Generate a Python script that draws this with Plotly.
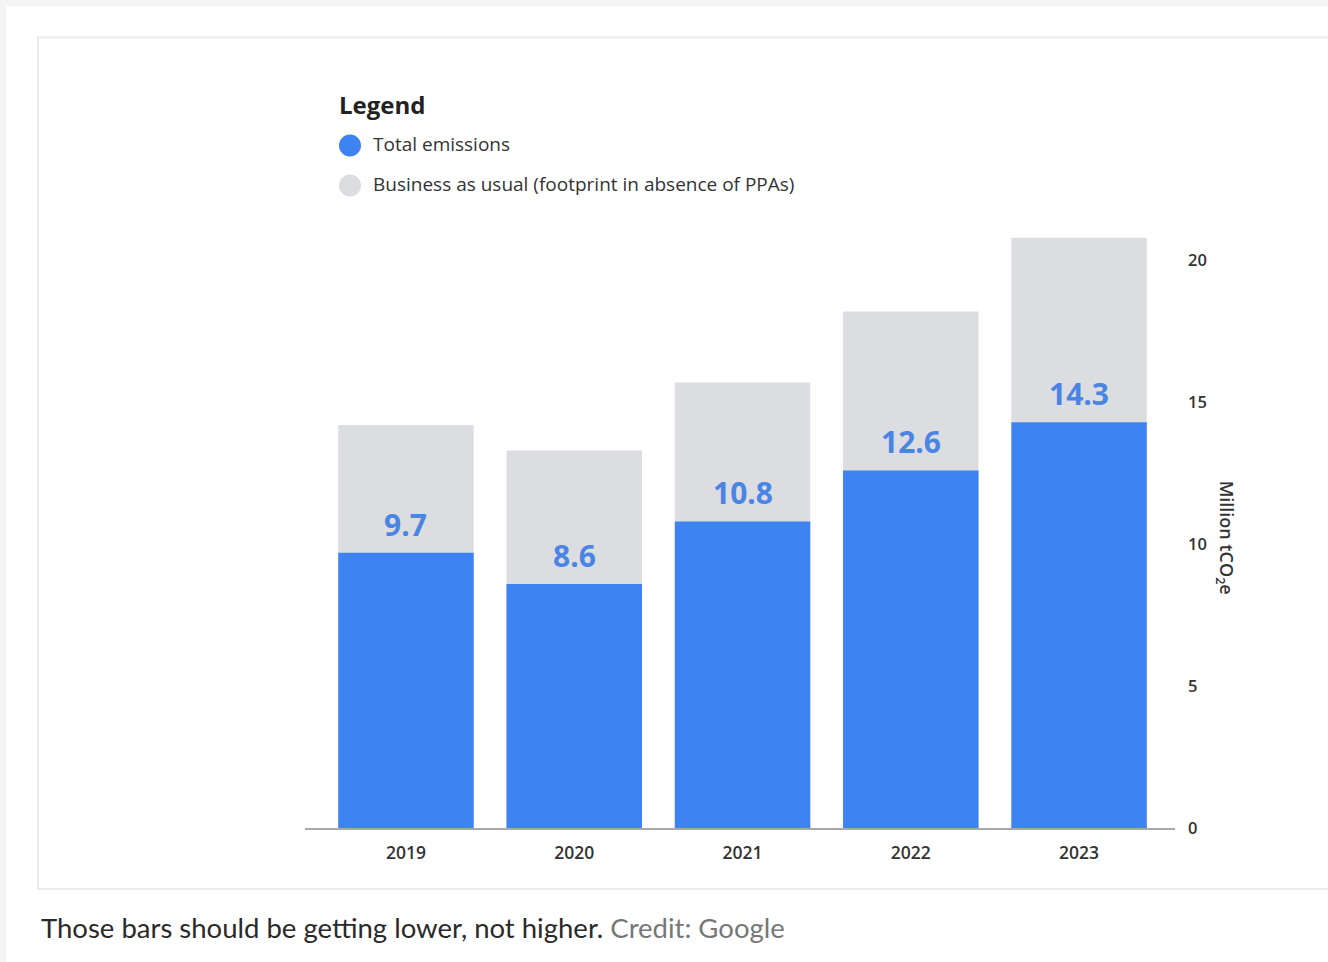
import plotly.graph_objects as go

years = ["2019", "2020", "2021", "2022", "2023"]
total_emissions = [9.7, 8.6, 10.8, 12.6, 14.3]
business_as_usual = [14.2, 13.3, 15.7, 18.2, 20.8]
y_ticks = [0, 5, 10, 15, 20]

BLUE = "#3d83f1"
GRAY = "#dcdde0"
LABEL_BLUE = "#4a84e4"
TEXT = "#333333"
FONT = "Open Sans"

W, H = 1328, 962
L, R, T, B = 305, 153, 231.6, 134
PW, PH = W - L - R, H - T - B


def px(x):
    return (x - L) / PW


def py(y):
    return (H - B - y) / PH


fig = go.Figure()
fig.add_trace(go.Bar(x=years, y=business_as_usual, marker=dict(color=GRAY, line=dict(width=0)),
                     showlegend=False, hoverinfo="skip"))
fig.add_trace(go.Bar(x=years, y=total_emissions, marker=dict(color=BLUE, line=dict(width=0)),
                     showlegend=False))

annotations = []
for i, v in enumerate(total_emissions):
    annotations.append(dict(x=i, y=v, xref="x", yref="y", text=f"{v}", showarrow=False,
                            yanchor="bottom", yshift=6,
                            font=dict(family=FONT, size=30, color=LABEL_BLUE, weight=700)))

# axis title (reads top to bottom)
annotations.append(dict(xref="paper", yref="paper", x=px(1241), y=py(537), text="Million tCO<sub>2</sub>e",
                        textangle=90, showarrow=False,
                        font=dict(family=FONT, size=18, color=TEXT, weight=600)))
# legend
annotations.append(dict(xref="paper", yref="paper", x=px(337), y=py(104), xanchor="left", yanchor="middle",
                        text="<b>Legend</b>", showarrow=False, font=dict(family=FONT, size=24, color="#222")))
annotations.append(dict(xref="paper", yref="paper", x=px(371), y=py(144), xanchor="left", yanchor="middle",
                        text="Total emissions", showarrow=False, font=dict(family=FONT, size=19, color=TEXT)))
annotations.append(dict(xref="paper", yref="paper", x=px(371), y=py(184), xanchor="left", yanchor="middle",
                        text="Business as usual (footprint in absence of PPAs)", showarrow=False,
                        font=dict(family=FONT, size=19, color=TEXT)))
# caption
annotations.append(dict(xref="paper", yref="paper", x=px(39), y=py(928), xanchor="left", yanchor="middle",
                        text="Those bars should be getting lower, not higher. <span style='color:#777777'>Credit: Google</span>",
                        showarrow=False, font=dict(family="Lato", size=27.5, color="#2a2a2a")))

shapes = [
    dict(type="rect", xref="paper", yref="paper", x0=px(6), x1=px(1340), y0=py(970), y1=py(6),
         fillcolor="white", line=dict(width=0), layer="below"),
    dict(type="rect", xref="paper", yref="paper", x0=px(38), x1=px(1345), y0=py(889), y1=py(37),
         fillcolor="white", line=dict(color="#ebebeb", width=2), layer="below"),
]
for cy, col in [(145, BLUE), (185, GRAY)]:
    shapes.append(dict(type="circle", xref="paper", yref="paper", xsizemode="pixel", ysizemode="pixel",
                       xanchor=px(350), yanchor=py(cy), x0=-11, x1=11, y0=-11, y1=11,
                       fillcolor=col, line=dict(width=0)))

fig.update_layout(
    width=W, height=H,
    margin=dict(l=L, r=R, t=T, b=B, pad=0),
    paper_bgcolor="#f4f4f4", plot_bgcolor="rgba(0,0,0,0)",
    barmode="overlay", bargap=0.195,
    showlegend=False,
    annotations=annotations, shapes=shapes,
    font=dict(family=FONT, color=TEXT),
    xaxis=dict(type="category", range=[-0.6, 4.57], showgrid=False, showline=True, linecolor="#a8a8a8",
               linewidth=2, ticks="", tickfont=dict(size=17.5, color=TEXT, weight=600), ticklabelstandoff=8,
               zeroline=False),
    yaxis=dict(range=[0, 21], side="right", tickvals=y_ticks, showgrid=False, showline=False, zeroline=False,
               ticks="", tickfont=dict(size=16.5, color=TEXT, weight=600), ticklabelstandoff=12),
)

fig.write_html("out.html")
